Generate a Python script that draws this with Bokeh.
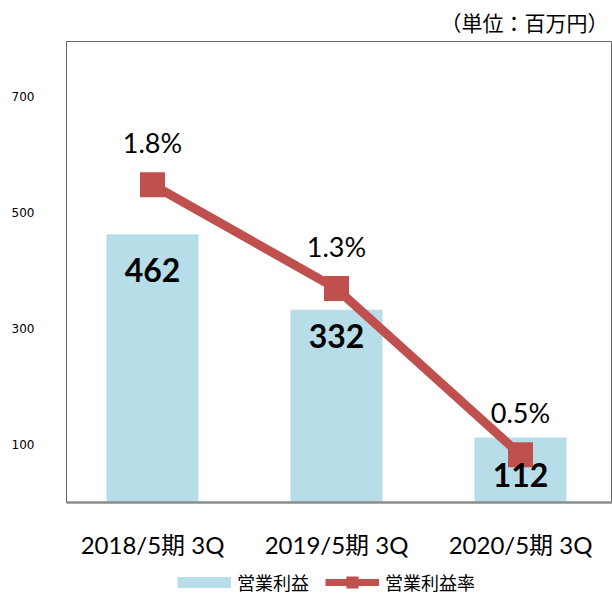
from bokeh.plotting import figure
from bokeh.layouts import column
from bokeh.models import (ColumnDataSource, Range1d, FixedTicker,
                          Legend, LegendItem, Title)
from bokeh.core.properties import value
from bokeh.embed import file_html
from bokeh.resources import INLINE

# ---- data ----
categories = ["2018/5期 3Q", "2019/5期 3Q", "2020/5期 3Q"]
operating_profit = [462, 332, 112]          # 百万円
profit_margin = [1.8, 1.3, 0.5]             # %
y_ticks = [100, 300, 500, 700]
bar_label_nudge = [36, 26, 38]              # px below bar top (style only)

xs = [i + 0.5 for i in range(len(categories))]
src = ColumnDataSource(dict(
    x=xs, v=operating_profit, m=profit_margin,
    vtxt=[str(v) for v in operating_profit],
    mtxt=[f"{m:.1f}%" for m in profit_margin],
    nudge=bar_label_nudge,
))

BAR = "#B7DDE8"
RED = "#C0504D"
JP = "Lato, Noto Sans CJK JP"

p = figure(width=612, height=567, output_backend="svg", toolbar_location=None,
           x_range=Range1d(0.0326, 3.0), y_range=Range1d(0, 794),
           min_border_left=66, min_border_right=0, min_border_top=40,
           min_border_bottom=65)
p.extra_y_ranges = {"pct": Range1d(0.27, 2.49)}

p.title = Title(text="（単位：百万円）", align="right", text_font_size="21px",
                text_font="Noto Sans CJK JP", text_font_style="normal",
                text_color="#000000", standoff=9, offset=4)

p.grid.visible = False
p.outline_line_color = "#666666"
p.outline_line_width = 1

# x axis
xa = p.xaxis[0]
xa.ticker = FixedTicker(ticks=xs)
xa.major_label_overrides = {x: c for x, c in zip(xs, categories)}
xa.major_tick_line_color = None
xa.minor_tick_line_color = None
xa.axis_line_color = "#8c8c8c"
xa.axis_line_width = 2.5
xa.major_label_text_font = JP
xa.major_label_text_font_size = "24px"
xa.major_label_text_color = "#000000"
xa.major_label_standoff = 21

# y axis
ya = p.yaxis[0]
ya.ticker = FixedTicker(ticks=y_ticks)
ya.axis_line_color = None
ya.major_tick_line_color = None
ya.minor_tick_line_color = None
ya.major_label_text_font = "DejaVu Sans"
ya.major_label_text_font_size = "12px"
ya.major_label_text_color = "#000000"
ya.major_label_standoff = 26

p.vbar(x="x", top="v", width=0.5, source=src, fill_color=BAR, line_color=None)
p.line(x="x", y="m", source=src, line_color=RED, line_width=9,
       y_range_name="pct")
p.scatter(x="x", y="m", source=src, marker="square", size=25,
          fill_color=RED, line_color=None, y_range_name="pct")

p.text(x="x", y="v", text="vtxt", source=src, y_offset="nudge",
       text_align="center", text_baseline="middle",
       text_font=value("Lato"), text_font_style="bold", text_font_size="32px",
       text_color="#000000")
p.text(x="x", y="m", text="mtxt", source=src, y_offset=-42,
       text_align="center", text_baseline="middle", y_range_name="pct",
       text_font=value("Lato"), text_font_size="27px", text_color="#000000")

# ---- legend strip below the chart ----
lg = figure(width=612, height=28, output_backend="svg", toolbar_location=None,
            min_border=0, x_axis_type=None, y_axis_type=None,
            x_range=Range1d(0, 1), y_range=Range1d(0, 1))
lg.grid.visible = False
lg.outline_line_color = None
sw_bar = lg.line(x="x", y="v", source=src, line_color=BAR, line_width=11,
                 visible=False)
sw_line = lg.line(x="x", y="m", source=src, line_color=RED, line_width=7,
                  visible=False)
sw_mark = lg.scatter(x="x", y="m", source=src, marker="square", size=12,
                     fill_color=RED, line_color=RED, line_width=5,
                     line_join="miter", visible=False)
legend = Legend(items=[LegendItem(label="営業利益", renderers=[sw_bar]),
                       LegendItem(label="営業利益率", renderers=[sw_line, sw_mark])],
                orientation="horizontal", location=(111, 0),
                glyph_width=54, glyph_height=18, label_height=18,
                label_standoff=6, spacing=16, padding=0, margin=0,
                label_text_font="Noto Sans CJK JP", label_text_font_size="18px",
                label_text_color="#000000", border_line_color=None,
                background_fill_alpha=0)
lg.add_layout(legend)

layout = column(p, lg, spacing=0)
open("out.html", "w").write(file_html(layout, INLINE))
